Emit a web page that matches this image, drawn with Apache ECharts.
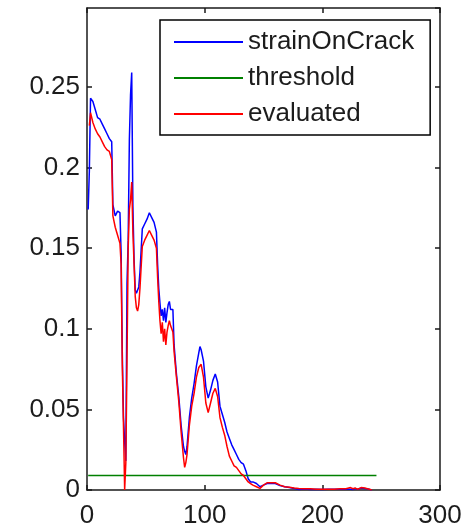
<!DOCTYPE html>
<html>
<head>
<meta charset="utf-8">
<script src="https://cdn.jsdelivr.net/npm/echarts@6/dist/echarts.min.js"></script>
<style>
  html, body { margin: 0; padding: 0; background: #fff; }
  #chart { width: 471px; height: 529px; }
</style>
</head>
<body>
<div id="chart"></div>
<script>
// Sample index of each reading
const sampleIndex = [
  1, 2, 3, 5, 7, 9, 11, 13, 15, 17, 19, 21, 22, 24, 26, 28, 29, 30, 31, 32,
  33, 34, 35, 36, 37, 38, 39, 40, 41, 42, 43, 44, 45, 47, 49, 51, 53, 55, 57, 59,
  60, 61, 62, 63, 64, 65, 66, 67, 68, 69, 70, 71, 72, 73, 74, 76, 78, 80, 82, 83,
  84, 85, 87, 89, 91, 93, 95, 96, 97, 99, 101, 103, 105, 107, 109, 111, 113, 115, 117, 119,
  121, 123, 125, 127, 129, 131, 133, 135, 137, 139, 141, 144, 147, 150, 153, 156, 160, 164, 168, 172,
  176, 180, 185, 190, 195, 200, 205, 210, 215, 220, 224, 226, 228, 230, 233, 236, 240, 242
];

// Measured strain on the crack
const strainOnCrack = [
  0.174, 0.198, 0.243, 0.241, 0.236, 0.231, 0.230, 0.227, 0.224, 0.221, 0.218, 0.216, 0.177, 0.170, 0.173, 0.172, 0.147, 0.085, 0.045, 0.030,
  0.018, 0.128, 0.155, 0.217, 0.245, 0.259, 0.176, 0.143, 0.124, 0.122, 0.122, 0.126, 0.135, 0.162, 0.165, 0.168, 0.172, 0.169, 0.166, 0.160,
  0.140, 0.125, 0.116, 0.108, 0.112, 0.105, 0.113, 0.104, 0.110, 0.115, 0.117, 0.112, 0.113, 0.112, 0.090, 0.072, 0.058, 0.040, 0.027, 0.024,
  0.022, 0.027, 0.045, 0.057, 0.066, 0.077, 0.085, 0.089, 0.087, 0.080, 0.064, 0.057, 0.062, 0.068, 0.072, 0.067, 0.052, 0.047, 0.042, 0.036,
  0.032, 0.028, 0.025, 0.022, 0.019, 0.017, 0.016, 0.012, 0.007, 0.005, 0.005, 0.004, 0.002, 0.003, 0.004, 0.004, 0.004, 0.0028, 0.002, 0.0015,
  0.001, 0.0003, 0.0006, 0.0003, 0.0004, 0.0003, 0.0004, 0.0004, 0.0005, 0.0006, 0.0005, 0.0003, 0.001, 0.0004, 0.0012, 0.001, 0.0004, 0.0
];

// Evaluated strain
const evaluated = [
  null, 0.226, 0.234, 0.228, 0.224, 0.221, 0.219, 0.216, 0.213, 0.211, 0.210, 0.205, 0.170, 0.163, 0.158, 0.153, 0.140, 0.077, 0.040, 0.000,
  0.017, 0.080, 0.150, 0.174, 0.180, 0.191, 0.160, 0.140, 0.120, 0.113, 0.111, 0.115, 0.125, 0.151, 0.155, 0.158, 0.161, 0.158, 0.155, 0.150,
  0.132, 0.117, 0.105, 0.097, 0.104, 0.092, 0.100, 0.090, 0.098, 0.102, 0.105, 0.102, 0.100, 0.098, 0.086, 0.070, 0.055, 0.036, 0.020, 0.014,
  0.017, 0.022, 0.040, 0.052, 0.060, 0.070, 0.076, 0.077, 0.078, 0.070, 0.054, 0.048, 0.054, 0.060, 0.063, 0.058, 0.045, 0.039, 0.034, 0.027,
  0.021, 0.018, 0.015, 0.014, 0.012, 0.010, 0.009, 0.007, 0.005, 0.004, 0.003, 0.002, 0.001, 0.003, 0.0045, 0.0045, 0.0045, 0.003, 0.002, 0.0017,
  0.0012, 0.001, 0.0008, 0.0008, 0.0005, 0.0005, 0.0005, 0.0005, 0.0007, 0.0008, 0.0015, 0.0008, 0.0012, 0.0005, 0.0015, 0.0012, 0.0005, 0.0
];

// Threshold level and the sample span it covers
const thresholdIndex = [1, 246];
const thresholdValue = 0.009;

const xTicks = { min: 0, max: 300, interval: 100 };
const yTicks = { min: 0, max: 0.299, interval: 0.05 };

const pairs = (xs, ys) => xs.map((x, i) => [x, ys[i]]);

const FONT = 'Liberation Sans, Arial, Helvetica, sans-serif';
const AXIS_COLOR = '#1a1a1a';
const TEXT_COLOR = '#1c1c1c';

const chart = echarts.init(document.getElementById('chart'), null, { renderer: 'canvas' });

const baseAxisLine = { show: true, onZero: false, lineStyle: { color: AXIS_COLOR, width: 1.5 } };
const baseTick = { show: true, inside: true, length: 5, lineStyle: { color: AXIS_COLOR, width: 1.5 } };

chart.setOption({
  animation: false,
  backgroundColor: '#fff',
  grid: { left: 87, right: 31, top: 8, bottom: 38, containLabel: false },
  legend: {
    orient: 'vertical',
    left: 160,
    top: 20,
    padding: [9, 16, 8, 14],
    itemWidth: 69,
    itemHeight: 2,
    itemGap: 10,
    icon: 'rect',
    selectedMode: false,
    backgroundColor: '#fff',
    borderColor: '#000',
    borderWidth: 1.5,
    borderRadius: 0,
    textStyle: { fontFamily: FONT, fontSize: 26, color: TEXT_COLOR },
    data: ['strainOnCrack', 'threshold', 'evaluated']
  },
  xAxis: [
    {
      type: 'value', position: 'bottom',
      min: xTicks.min, max: xTicks.max, interval: xTicks.interval,
      axisLine: baseAxisLine, axisTick: baseTick, splitLine: { show: false },
      axisLabel: { fontFamily: FONT, fontSize: 26, color: TEXT_COLOR, margin: 13 }
    },
    {
      type: 'value', position: 'top',
      min: xTicks.min, max: xTicks.max, interval: xTicks.interval,
      axisLine: baseAxisLine, axisTick: baseTick, splitLine: { show: false },
      axisLabel: { show: false }
    }
  ],
  yAxis: [
    {
      type: 'value', position: 'left',
      min: yTicks.min, max: yTicks.max, interval: yTicks.interval,
      axisLine: baseAxisLine, axisTick: baseTick, splitLine: { show: false },
      axisLabel: { fontFamily: FONT, fontSize: 26, color: TEXT_COLOR, margin: 7, showMaxLabel: false }
    },
    {
      type: 'value', position: 'right',
      min: yTicks.min, max: yTicks.max, interval: yTicks.interval,
      axisLine: baseAxisLine, axisTick: baseTick, splitLine: { show: false },
      axisLabel: { show: false }
    }
  ],
  series: [
    {
      name: 'strainOnCrack', type: 'line', showSymbol: false, symbol: 'none',
      data: pairs(sampleIndex, strainOnCrack),
      lineStyle: { color: '#0000ff', width: 1.5 }, itemStyle: { color: '#0000ff' }
    },
    {
      name: 'threshold', type: 'line', showSymbol: false, symbol: 'none',
      data: thresholdIndex.map(x => [x, thresholdValue]),
      lineStyle: { color: '#008000', width: 1.5 }, itemStyle: { color: '#008000' }
    },
    {
      name: 'evaluated', type: 'line', showSymbol: false, symbol: 'none', connectNulls: false,
      data: pairs(sampleIndex, evaluated),
      lineStyle: { color: '#ff0000', width: 1.5 }, itemStyle: { color: '#ff0000' }
    }
  ]
});
</script>
</body>
</html>
